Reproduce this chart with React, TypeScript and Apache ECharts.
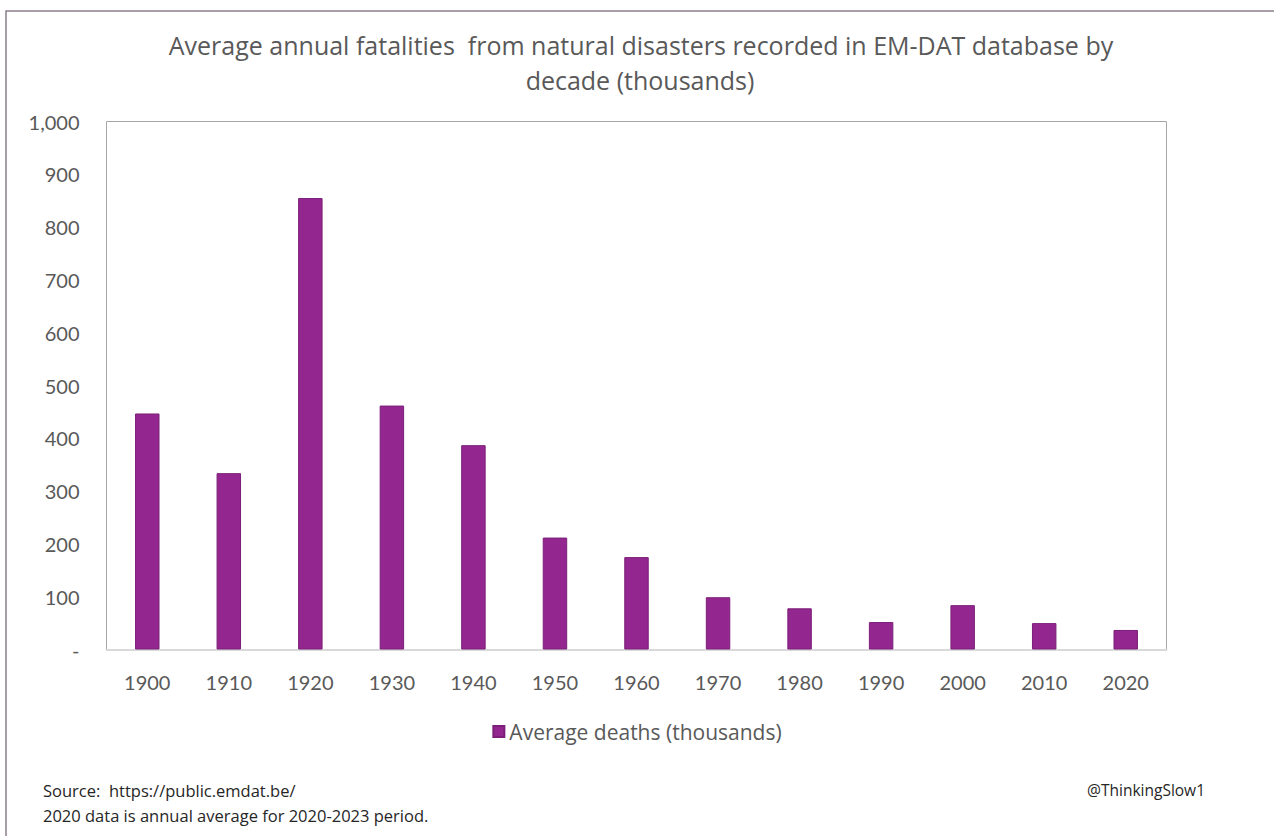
import React, { useEffect, useRef } from "react";
import * as echarts from "echarts";

const decades = ["1900", "1910", "1920", "1930", "1940", "1950", "1960", "1970", "1980", "1990", "2000", "2010", "2020"];
const avgDeaths = [447, 334, 855, 462, 387, 212, 175, 99, 78, 52, 84, 50, 37];
const seriesName = "Average deaths (thousands)";
const titleLine1 = "Average annual fatalities  from natural disasters recorded in EM-DAT database by";
const titleLine2 = "decade (thousands)";
const sourceLine = "Source:  https://public.emdat.be/";
const noteLine = "2020 data is annual average for 2020-2023 period.";
const credit = "@ThinkingSlow1";

const FONT = "Lato, 'Open Sans', sans-serif";
const TFONT = "'Open Sans', Lato, sans-serif";
const GREY = "#595959";
const BAR = "#93278f";

export default function App() {
  const ref = useRef<HTMLDivElement>(null);
  useEffect(() => {
    if (!ref.current) return;
    const chart = echarts.init(ref.current, null, { renderer: "svg" });
    chart.setOption({
      animation: false,
      backgroundColor: "#ffffff",
      grid: {
        left: 106.5,
        right: 107.5,
        top: 121.5,
        bottom: 186.5,
        show: true,
        borderColor: "#a6a6a6",
        borderWidth: 1,
        backgroundColor: "transparent",
      },
      legend: {
        data: [seriesName],
        top: 716,
        left: "center",
        icon: "rect",
        itemWidth: 11,
        itemHeight: 11,
        itemGap: 4,
        textStyle: { fontFamily: TFONT, fontSize: 21, color: GREY, padding: [0, 0, 0, 0] },
      },
      xAxis: {
        type: "category",
        data: decades,
        axisLine: { show: true, lineStyle: { color: "#d9d9d9", width: 2 } },
        axisTick: { show: false },
        axisLabel: { fontFamily: FONT, fontSize: 20, color: GREY, margin: 22 },
        splitLine: { show: false },
      },
      yAxis: {
        type: "value",
        min: 0,
        max: 1000,
        interval: 100,
        axisLine: { show: false },
        axisTick: { show: false },
        splitLine: { show: false },
        axisLabel: {
          fontFamily: FONT,
          fontSize: 20,
          color: GREY,
          margin: 27,
          formatter: (v: number) => (v === 0 ? "-" : v.toLocaleString("en-US")),
        },
      },
      series: [
        {
          name: seriesName,
          type: "bar",
          data: avgDeaths,
          barWidth: "30%",
          itemStyle: { color: BAR, borderColor: "#7b1f78", borderWidth: 1 },
        },
      ],
      graphic: [
        {
          type: "rect",
          silent: true,
          shape: { x: 6, y: 11, width: 1400, height: 1000 },
          style: { fill: "none", stroke: "#8a7f8a", lineWidth: 1.5 },
        },
        {
          type: "text",
          x: 641,
          y: 45,
          style: {
            text: titleLine1,
            fontFamily: TFONT,
            fontSize: 25,
            fill: GREY,
            align: "center",
            verticalAlign: "middle",
          },
        },
        {
          type: "text",
          x: 640,
          y: 80,
          style: {
            text: titleLine2,
            fontFamily: TFONT,
            fontSize: 25,
            fill: GREY,
            align: "center",
            verticalAlign: "middle",
          },
        },
        {
          type: "text",
          x: 43,
          y: 790,
          style: { text: sourceLine, fontFamily: TFONT, fontSize: 16.5, fill: "#262626", verticalAlign: "middle" },
        },
        {
          type: "text",
          x: 43,
          y: 815,
          style: { text: noteLine, fontFamily: TFONT, fontSize: 16.5, fill: "#262626", verticalAlign: "middle" },
        },
        {
          type: "text",
          x: 1205,
          y: 790,
          style: { text: credit, fontFamily: TFONT, fontSize: 15.5, fill: "#262626", align: "right", verticalAlign: "middle" },
        },
      ],
    });
    return () => chart.dispose();
  }, []);
  return (
    <div
      ref={ref}
      style={{ position: "absolute", left: 0, top: 0, width: 1274, height: 836 }}
    />
  );
}
